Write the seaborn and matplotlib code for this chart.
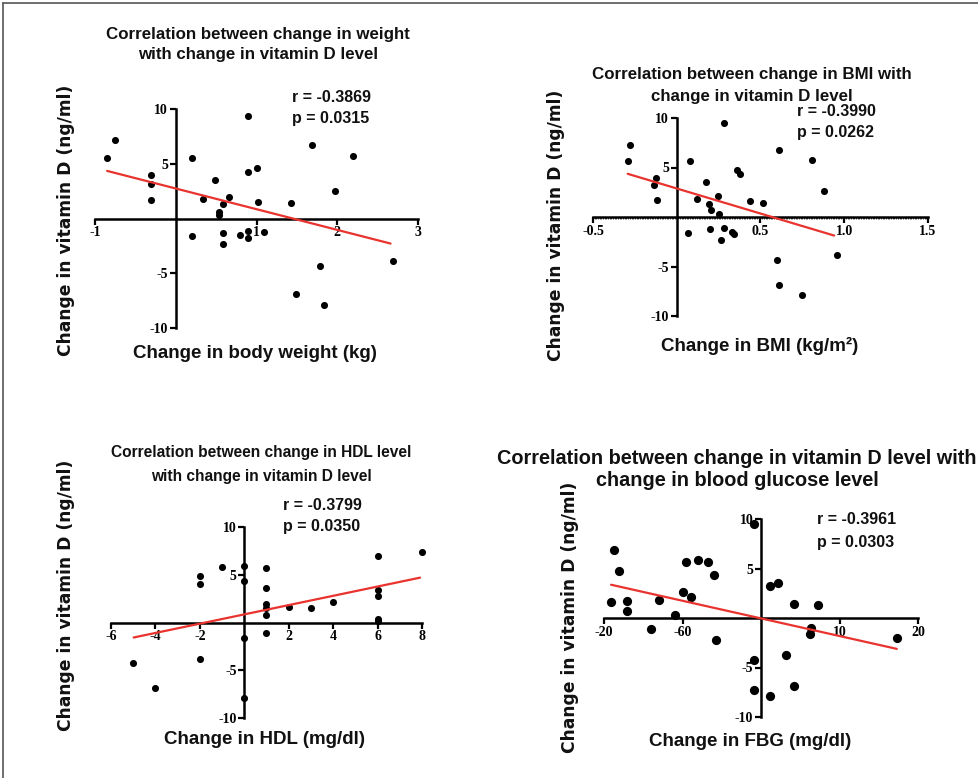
import numpy as np
import pandas as pd
import matplotlib
matplotlib.use("Agg")
import matplotlib.pyplot as plt
import seaborn as sns
from matplotlib.lines import Line2D
from matplotlib.ticker import FixedLocator, FixedFormatter, MultipleLocator

# ---------------- data ----------------
weight_x = [-0.85, -0.75, -0.31, -0.31, -0.31, 0.20, 0.20, 0.34, 0.49, 0.54, 0.53, 0.59, 0.66,
            0.59, 0.59, 0.79, 0.89, 0.89, 0.89, 0.89, 1.00, 1.02, 1.09, 1.43, 1.49, 1.69,
            1.79, 1.84, 1.97, 2.19, 2.69]
weight_y = [5.56, 7.17, 3.98, 3.19, 1.67, 5.53, -1.64, 1.76, 3.50, 0.55, 0.35, 1.30, 2.0,
            -1.28, -2.34, -1.49, -1.12, -1.76, 9.36, 4.22, 4.62, 1.52, -1.19, 1.37, -6.93, 6.72,
            -4.32, -7.93, 2.55, 5.68, -3.86]
weight_fit_x = [-0.85, 2.66]
weight_fit = (-1.89, 2.74)  # slope, intercept

bmi_x = [-0.293, -0.277, -0.124, -0.137, -0.118, 0.066, 0.080, 0.12, 0.173, 0.201, 0.195, 0.205,
         0.247, 0.251, 0.263, 0.281, 0.285, 0.331, 0.341, 0.361, 0.378, 0.44, 0.514, 0.598,
         0.612, 0.612, 0.745, 0.805, 0.882, 0.958]
bmi_y = [5.67, 7.25, 3.89, 3.22, 1.74, -1.58, 5.64, 1.85, 3.56, -1.24, 1.31, 0.70, 2.11, 0.34,
         -2.32, -1.14, 9.46, -1.48, -1.68, 4.70, 4.36, 1.61, 1.44, -4.30, -6.88, 6.81, -7.92,
         5.77, 2.65, -3.83]
bmi_fit_x = [-0.293, 0.94]
bmi_fit = (-5.06, 2.88)

hdl_x = [-2, -2, -1, 0, 0, 1, 1, 1, 1, 1, 1, 2, 3, 4, 6, 6, 6, 6, 6, 8, -5, -4, -2, 0, 0]
hdl_y = [4.83, 3.99, 5.77, 5.87, 4.37, 5.70, 3.64, 1.89, 1.50, 0.77, -1.05, 1.64, 1.50, 2.17,
         6.92, 3.39, 2.73, 0.35, 0.20, 7.41, -4.27, -6.85, -3.78, -1.64, -7.94]
hdl_fit_x = [-4.98, 7.91]
hdl_fit = (0.486, 0.85)

fbg_x = [-18.76, -18.08, -19.1, -17.06, -17.06, -14.07, -13.0, -11.0, -9.98, -9.6, -8.87, -8.02,
         -6.78, -5.93, -5.71, -0.9, -0.9, -0.9, 1.15, 2.13, 1.15, 3.16, 4.18, 4.18, 6.31, 6.18,
         7.25, 17.27]
fbg_y = [6.82, 4.73, 1.66, 1.76, 0.68, -1.11, 1.82, 0.34, 2.67, 5.68, 2.09, 5.81, 5.61, 4.32,
         -2.26, 9.46, -4.29, -7.30, 3.28, 3.58, -7.87, -3.78, -6.86, 1.42, -1.05, -1.59, 1.28,
         -2.06]
fbg_fit_x = [-19.1, 17.3]
fbg_fit = (-0.178, -0.04)

titles = [["Correlation between change in weight", "with change in vitamin D level"],
          ["Correlation between change in BMI with", "change in vitamin D level"],
          ["Correlation between change in HDL level", "with change in vitamin D level"],
          ["Correlation between change in vitamin D level with", "change in blood glucose level"]]
stats = [("r = -0.3869", "p = 0.0315"), ("r = -0.3990", "p = 0.0262"),
         ("r = -0.3799", "p = 0.0350"), ("r = -0.3961", "p = 0.0303")]
xlabels = ["Change in body weight (kg)", "Change in BMI (kg/m²)",
           "Change in HDL (mg/dl)", "Change in FBG (mg/dl)"]
ylabel = "Change in vitamin D (ng/ml)"

x_ticks = [[-1, 1, 2, 3], [-0.5, 0.5, 1.0, 1.5], [-6, -4, -2, 2, 4, 6, 8], [-20, -10, 10, 20]]
x_ticklabels = [["-1", "1", "2", "3"], ["-0.5", "0.5", "1.0", "1.5"],
                ["-6", "-4", "-2", "2", "4", "6", "8"], ["-20", "-60", "10", "20"]]
x_limits = [(-1, 3), (-0.5, 1.5), (-6, 8), (-20, 20)]
y_ticks = [-10, -5, 5, 10]
y_ticklabels = ["-10", "-5", "5", "10"]

# ---------------- figure ----------------
sns.set_theme(style="white")
plt.rcParams['font.family'] = ['Liberation Sans', 'DejaVu Sans']

W, H = 979, 778
fig = plt.figure(figsize=(W / 100, H / 100), dpi=100)
fig.patch.set_facecolor("white")


def place(x0, x1, ytop, ybot):
    return fig.add_axes([x0 / W, 1 - ybot / H, (x1 - x0) / W, (ybot - ytop) / H])


def ftext(x, y, s, **kw):
    return fig.text(x / W, 1 - y / H, s, **kw)


# pixel boxes of the plotting ranges
boxes = [(95, 418, 109, 328), (593, 928, 118, 316), (111, 422, 527, 718), (604, 918, 519, 717)]
datasets = [(weight_x, weight_y, weight_fit_x, weight_fit),
            (bmi_x, bmi_y, bmi_fit_x, bmi_fit),
            (hdl_x, hdl_y, hdl_fit_x, hdl_fit),
            (fbg_x, fbg_y, fbg_fit_x, fbg_fit)]
marker_sizes = [26, 26, 26, 44]

title_x = [258, 752, 261, 737]
title_y = [(34, 55), (75, 96), (453, 476), (458, 481)]
title_size = [12.2, 12.2, 11.2, 14.3]
stat_pos = [(292, 97, 119), (797, 111, 133), (283, 505, 527), (817, 520, 543)]
xlabel_pos = [(255, 354), (760, 346), (265, 740), (750, 742)]
ylabel_pos = [(66, 220), (556, 225), (66, 595), (570, 617)]

for i, ax in enumerate([place(*b) for b in boxes]):
    xs, ys, fx, (m, c) = datasets[i]
    df = pd.DataFrame({"x": xs, "y": ys})
    sns.scatterplot(data=df, x="x", y="y", ax=ax, color="black", s=marker_sizes[i],
                    edgecolor="black", linewidth=0, clip_on=False, zorder=3)
    fdf = pd.DataFrame({"x": fx, "y": [m * v + c for v in fx]})
    sns.lineplot(data=fdf, x="x", y="y", ax=ax, color="#e8332e", linewidth=1.6,
                 zorder=4, clip_on=False)
    ax.set_xlim(*x_limits[i])
    ax.set_ylim(-10, 10)
    ax.set_facecolor("none")
    for sp in ["top", "right"]:
        ax.spines[sp].set_visible(False)
    ax.spines["left"].set_position(("data", 0))
    ax.spines["bottom"].set_position(("data", 0))
    for sp in ["left", "bottom"]:
        ax.spines[sp].set_linewidth(1.8)
        ax.spines[sp].set_color("black")
    ax.xaxis.set_major_locator(FixedLocator(x_ticks[i]))
    ax.xaxis.set_major_formatter(FixedFormatter(x_ticklabels[i]))
    ax.yaxis.set_major_locator(FixedLocator(y_ticks))
    ax.yaxis.set_major_formatter(FixedFormatter(y_ticklabels))
    ax.tick_params(axis="both", which="major", direction="out", length=4, width=1.6,
                   color="black", pad=1.5, bottom=True, left=True)
    if i == 1:
        ax.xaxis.set_minor_locator(MultipleLocator(0.01))
        ax.tick_params(axis="x", which="minor", direction="out", length=1.6, width=0.6,
                       color="#333333", bottom=True)
    for lab in ax.get_xticklabels() + ax.get_yticklabels():
        lab.set_fontfamily(["Liberation Serif", "DejaVu Serif"])
        lab.set_fontweight("bold")
        lab.set_fontsize(10)
        lab.set_color("black")
    ax.set_xlabel("")
    ax.set_ylabel("")
    ax.grid(False)

    for line, ly in zip(titles[i], title_y[i]):
        ftext(title_x[i], ly, line, ha="center", va="center", fontsize=title_size[i],
              fontweight="bold", color="#111111")
    sx, ry, py = stat_pos[i]
    ftext(sx, ry, stats[i][0], ha="left", va="center", fontsize=11.5, fontweight="bold",
          color="#111111")
    ftext(sx, py, stats[i][1], ha="left", va="center", fontsize=11.5, fontweight="bold",
          color="#111111")
    lx, ly = xlabel_pos[i]
    ftext(lx, ly, xlabels[i], ha="center", va="center", fontsize=13.5, fontweight="bold",
          color="#111111")
    yx, yy = ylabel_pos[i]
    ftext(yx, yy, ylabel, ha="center", va="center", rotation=90, fontsize=12.3,
          fontweight="bold", family=["DejaVu Sans"], color="#111111")

# outer frame (top and left edges)
fig.add_artist(Line2D([3 / W, 1], [1 - 3 / H, 1 - 3 / H], color="#555555", linewidth=1.2))
fig.add_artist(Line2D([3 / W, 3 / W], [0, 1 - 3 / H], color="#555555", linewidth=1.2))

fig.savefig("out.png", dpi=100, facecolor="white")
